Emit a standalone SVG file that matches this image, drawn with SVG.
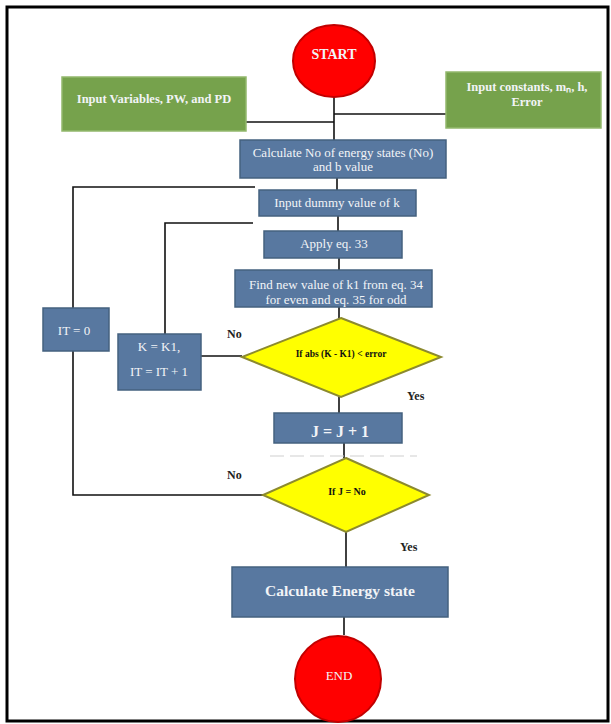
<svg xmlns="http://www.w3.org/2000/svg" width="611" height="724" viewBox="0 0 611 724">
<style>
.blue{fill:#5878a0;stroke:#44617f;stroke-width:1.5}
.green{fill:#76a24c;stroke:#93b86c;stroke-width:1.5}
.red{fill:#ff0000;stroke:#c20000;stroke-width:2}
.yel{fill:#ffff00;stroke:#8c8a2e;stroke-width:2}
.t{font-family:"Liberation Serif","Times New Roman",serif;text-anchor:middle;dominant-baseline:central}
.w{fill:#f2f4f7}
.b{font-weight:bold}
.lbl{font-family:"Liberation Serif","Times New Roman",serif;font-size:12px;font-weight:bold;fill:#222}
.c{fill:none;stroke:#111;stroke-width:1.6}
</style>
<rect x="0" y="0" width="611" height="724" fill="#ffffff"/>
<rect x="7" y="7" width="601" height="714" fill="none" stroke="#000" stroke-width="3"/>
<g id="connectors">
<path class="c" d="M334 97V140"/>
<path class="c" d="M246 122H334"/>
<path class="c" d="M446 114H334"/>
<path class="c" d="M337 178V190"/>
<path class="c" d="M338 216V231"/>
<path class="c" d="M339 258V270"/>
<path class="c" d="M339 307V318"/>
<path class="c" d="M255 187H73V308"/>
<path class="c" d="M73 351V495H263"/>
<path class="c" d="M253 223H165V334"/>
<path class="c" d="M201 356H242"/>
<path class="c" d="M339 397V413"/>
<path class="c" d="M344 443V458"/>
<path class="c" d="M346 532V567"/>
<path class="c" d="M344 617V635"/>
<path d="M270 456H417" fill="none" stroke="#cfcfcf" stroke-width="1" stroke-dasharray="14 6"/>
</g>
<g id="start">
<ellipse class="red" cx="334" cy="61" rx="41" ry="36"/>
<text class="t w b" x="334" y="54" font-size="14">START</text>
</g>
<g id="input-variables">
<rect class="green" x="62" y="77" width="184" height="54"/>
<text class="t w b" x="154" y="99" font-size="12.5">Input Variables, PW, and PD</text>
</g>
<g id="input-constants">
<rect class="green" x="446" y="72" width="155" height="56"/>
<text class="t w b" x="527" y="87" font-size="12.5">Input constants, mₙ, h,</text>
<text class="t w b" x="527" y="102" font-size="12.5">Error</text>
</g>
<g id="calc-states">
<rect class="blue" x="240" y="140" width="206" height="38"/>
<text class="t w" x="343" y="152" font-size="13">Calculate No of energy states (No)</text>
<text class="t w" x="343" y="166" font-size="13">and b value</text>
</g>
<g id="input-dummy">
<rect class="blue" x="259" y="190" width="157" height="26"/>
<text class="t w" x="337" y="202" font-size="13">Input dummy value of k</text>
</g>
<g id="apply-33">
<rect class="blue" x="264" y="231" width="138" height="27"/>
<text class="t w" x="334" y="243" font-size="13">Apply eq. 33</text>
</g>
<g id="find-k1">
<rect class="blue" x="235" y="270" width="197" height="37"/>
<text class="t w" x="336" y="284" font-size="13">Find new value of k1 from eq. 34</text>
<text class="t w" x="336" y="299" font-size="13">for even and eq. 35 for odd</text>
</g>
<g id="decision-error">
<polygon class="yel" points="341,318 441,357 341,397 242,357"/>
<text class="t b" x="341" y="354" font-size="9.5" fill="#111">If abs (K - K1) &lt; error</text>
</g>
<g id="it-zero">
<rect class="blue" x="43" y="308" width="66" height="43"/>
<text class="t w" x="74" y="330" font-size="13">IT = 0</text>
</g>
<g id="k-update">
<rect class="blue" x="118" y="334" width="83" height="56"/>
<text class="t w" x="159" y="346" font-size="13">K = K1,</text>
<text class="t w" x="159" y="371" font-size="13">IT = IT + 1</text>
</g>
<g id="j-inc">
<rect class="blue" x="274" y="413" width="128" height="30"/>
<text class="t w b" x="340" y="431" font-size="16">J = J + 1</text>
</g>
<g id="decision-j">
<polygon class="yel" points="346,458 429,495 346,532 263,495"/>
<text class="t b" x="347" y="491" font-size="10" fill="#111">If J = No</text>
</g>
<g id="calc-energy">
<rect class="blue" x="232" y="567" width="216" height="50"/>
<text class="t w b" x="340" y="590" font-size="15.5">Calculate Energy state</text>
</g>
<g id="end">
<ellipse class="red" cx="338" cy="679" rx="43" ry="43"/>
<text class="t w" x="339" y="675" font-size="13">END</text>
</g>
<g id="labels">
<text class="lbl" x="227" y="338">No</text>
<text class="lbl" x="407" y="400">Yes</text>
<text class="lbl" x="227" y="479">No</text>
<text class="lbl" x="400" y="551">Yes</text>
</g>
</svg>
